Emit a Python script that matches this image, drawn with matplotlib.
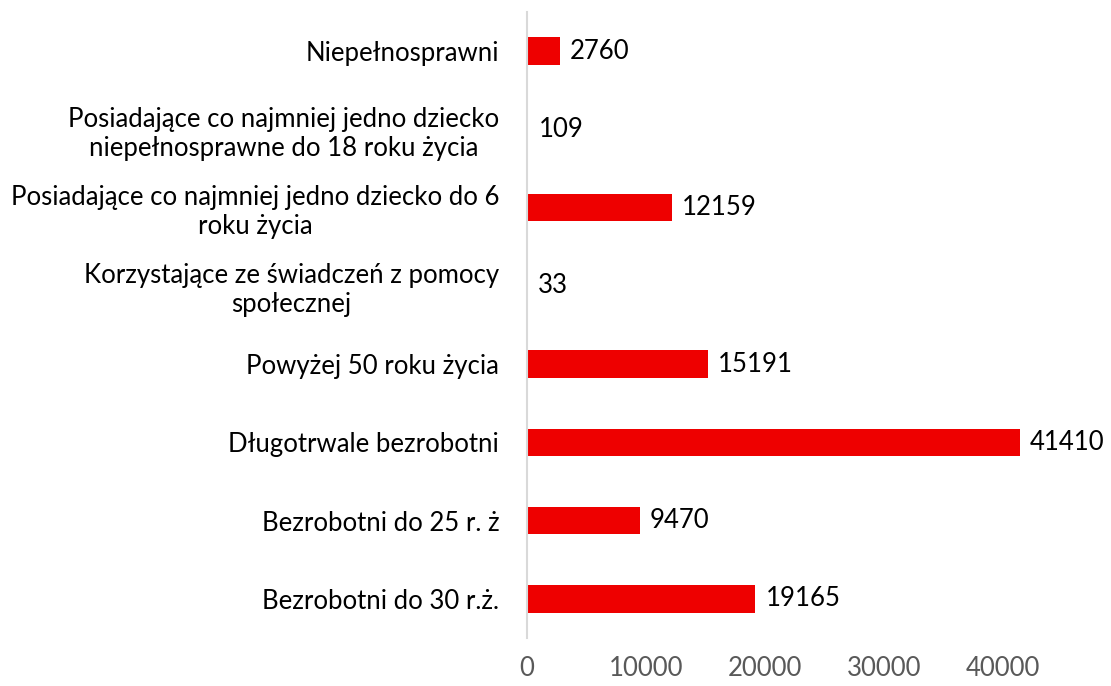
import matplotlib
matplotlib.use("Agg")
import matplotlib.pyplot as plt

# categories listed bottom to top (as barh draws them)
categories = [
    "Bezrobotni do 30 r.ż.",
    "Bezrobotni do 25 r. ż",
    "Długotrwale bezrobotni",
    "Powyżej 50 roku życia",
    "Korzystające ze świadczeń z pomocy\nspołecznej",
    "Posiadające co najmniej jedno dziecko do 6\nroku życia",
    "Posiadające co najmniej jedno dziecko\nniepełnosprawne do 18 roku życia",
    "Niepełnosprawni",
]
values = [19165, 9470, 41410, 15191, 33, 12159, 109, 2760]
xticks = [0, 10000, 20000, 30000, 40000]

plt.rcParams["font.family"] = ["Lato", "DejaVu Sans"]
fs = 18.5

fig = plt.figure(figsize=(11.11, 6.86), dpi=100)
ax = fig.add_axes([0.4743, 0.070, 0.482, 0.9125])

y = range(len(categories))
ax.barh(y, values, height=0.35, color="#ee0000", linewidth=0)

for yi, v in zip(y, values):
    ax.annotate(str(v), (v, yi), xytext=(7.5, 0), textcoords="offset points",
                va="center", ha="left", fontsize=fs, color="black")

ax.set_ylim(-0.5, len(categories) - 0.5)
ax.set_xlim(0, 45000)
ax.set_yticks(list(y))
ax.set_yticklabels(categories, fontsize=fs, multialignment="center")
ax.set_xticks(xticks)
ax.set_xticklabels([str(t) for t in xticks], fontsize=fs, color="#595959")

for s in ("top", "right", "bottom"):
    ax.spines[s].set_visible(False)
ax.spines["left"].set_color("#d9d9d9")
ax.spines["left"].set_linewidth(1.5)
ax.tick_params(axis="y", length=0, pad=20)
ax.tick_params(axis="x", length=0, pad=13)

fig.savefig("out.png", dpi=100)
